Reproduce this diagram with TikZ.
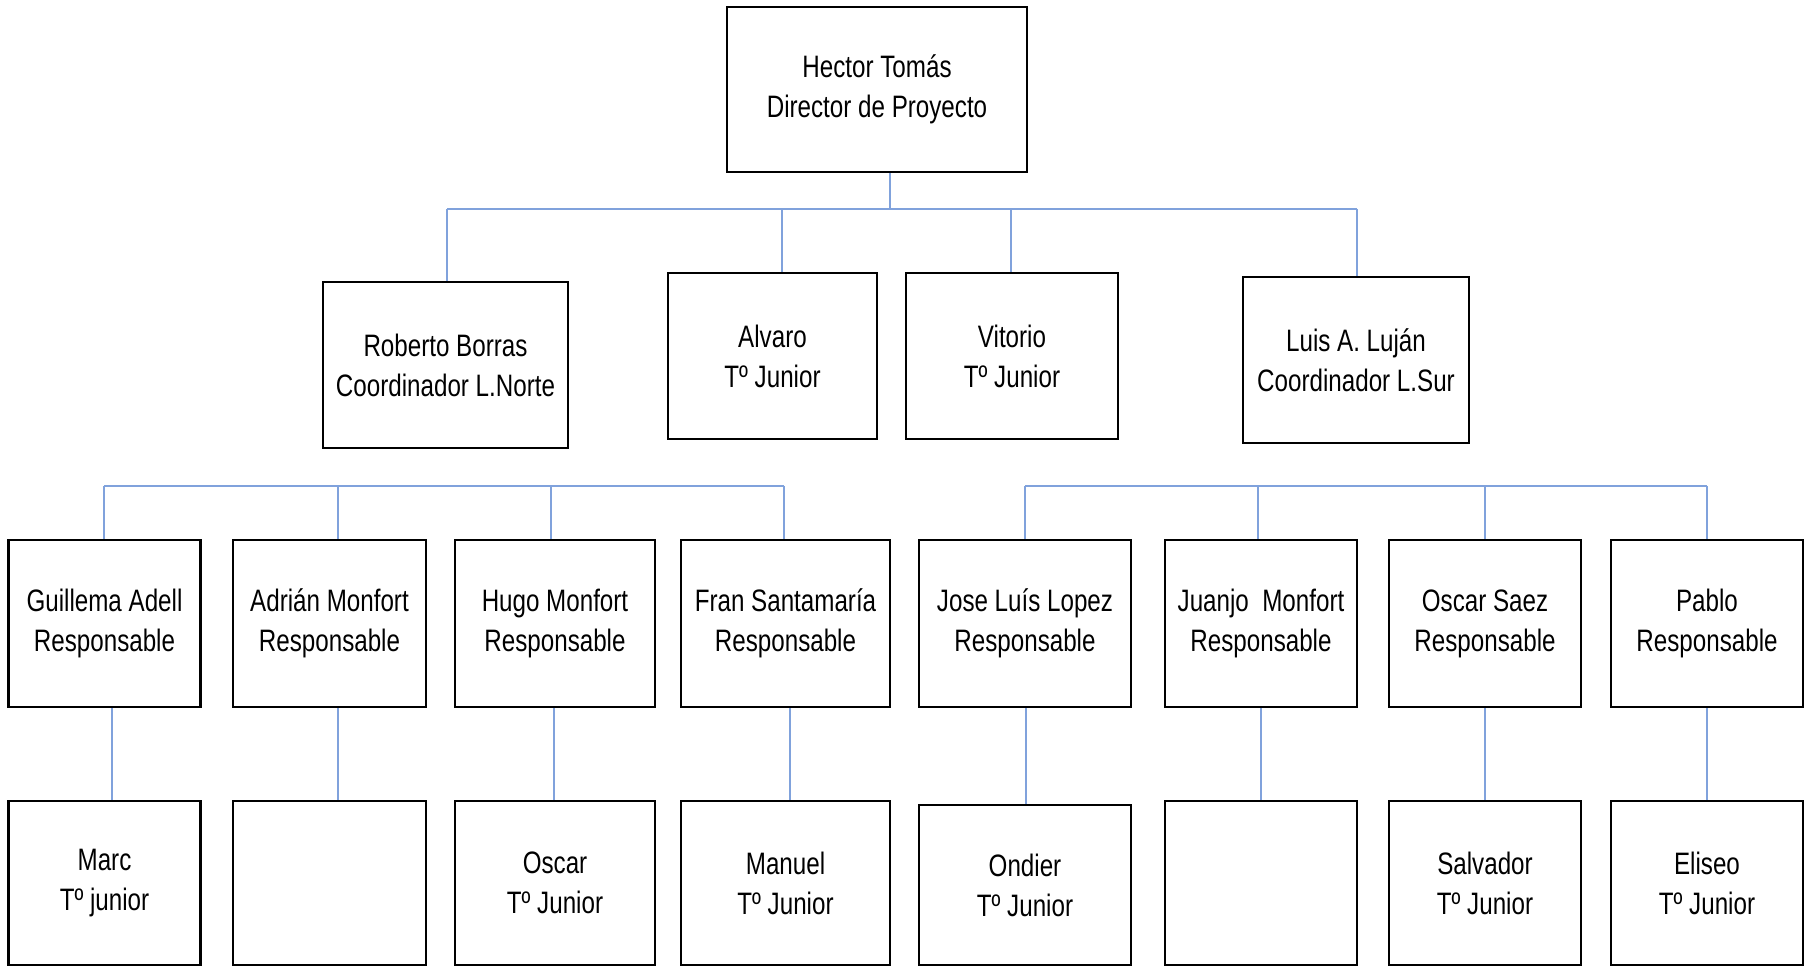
\documentclass[tikz,border=0pt]{standalone}
\usepackage{fontspec}
\setmainfont{Liberation Sans}[FakeStretch=0.78]
\definecolor{azul}{RGB}{128,162,220}
\tikzset{
  caja/.style={draw=black, line width=1.1pt, align=center, inner sep=0pt,
    font=\fontsize{15.5}{20}\selectfont},
  linea/.style={draw=azul, line width=1pt}
}
\begin{document}
\begin{tikzpicture}[x=0.5pt,y=-0.5pt]
\useasboundingbox (0,0) rectangle (1808,967);

% director
\node[caja, minimum width=150pt, minimum height=82.5pt] (dir) at (877,89.5) {Hector Tomás\\Director de Proyecto};

% segundo nivel
\node[caja, minimum width=122.5pt, minimum height=83pt] (rob) at (445.5,365) {Roberto Borras\\Coordinador L.Norte};
\node[caja, minimum width=104.5pt, minimum height=83pt] (alv) at (772.5,356) {Alvaro\\Tº Junior};
\node[caja, minimum width=106pt, minimum height=83pt] (vit) at (1012,356) {Vitorio\\Tº Junior};
\node[caja, minimum width=113pt, minimum height=83pt] (luis) at (1356,360) {Luis A. Luján\\Coordinador L.Sur};

\coordinate (b0) at (890,209);
\coordinate (b1) at (447,209);
\coordinate (b2) at (782,209);
\coordinate (b3) at (1011,209);
\coordinate (b4) at (1357,209);
\draw[linea] (dir.south -| b0) -- (b0);
\draw[linea] (b1) -- (b4);
\draw[linea] (b1) -- (rob.north -| b1);
\draw[linea] (b2) -- (alv.north -| b2);
\draw[linea] (b3) -- (vit.north -| b3);
\draw[linea] (b4) -- (luis.north -| b4);

% responsables
\node[caja, minimum width=96pt, minimum height=83.5pt] (gui) at (104.5,623.5) {Guillema Adell\\Responsable};
\node[caja, minimum width=96.5pt, minimum height=83.5pt] (adr) at (329.5,623.5) {Adrián Monfort\\Responsable};
\node[caja, minimum width=100pt, minimum height=83.5pt] (hug) at (555,623.5) {Hugo Monfort\\Responsable};
\node[caja, minimum width=104.5pt, minimum height=83.5pt] (fra) at (785.5,623.5) {Fran Santamaría\\Responsable};
\node[caja, minimum width=106pt, minimum height=83.5pt] (jos) at (1025,623.5) {Jose Luís Lopez\\Responsable};
\node[caja, minimum width=96pt, minimum height=83.5pt] (jua) at (1261,623.5) {Juanjo\ \ Monfort\\Responsable};
\node[caja, minimum width=96pt, minimum height=83.5pt] (osc) at (1485,623.5) {Oscar Saez\\Responsable};
\node[caja, minimum width=96pt, minimum height=83.5pt] (pab) at (1707,623.5) {Pablo\\Responsable};

\coordinate (n1) at (104,486);
\coordinate (n2) at (338,486);
\coordinate (n3) at (551,486);
\coordinate (n4) at (784,486);
\coordinate (s1) at (1025,486);
\coordinate (s2) at (1258,486);
\coordinate (s3) at (1485,486);
\coordinate (s4) at (1707,486);
\draw[linea] (n1) -- (n4);
\draw[linea] (s1) -- (s4);
\foreach \c/\n in {n1/gui,n2/adr,n3/hug,n4/fra,s1/jos,s2/jua,s3/osc,s4/pab}
  \draw[linea] (\c) -- (\n.north -| \c);

% tecnicos junior
\node[caja, minimum width=96pt, minimum height=82pt] (mar) at (104.5,883) {Marc\\Tº junior};
\node[caja, minimum width=96.5pt, minimum height=82pt] (vac1) at (329.5,883) {};
\node[caja, minimum width=100pt, minimum height=82pt] (osr) at (555,883) {Oscar\\Tº Junior};
\node[caja, minimum width=104.5pt, minimum height=82pt] (man) at (785.5,883) {Manuel\\Tº Junior};
\node[caja, minimum width=106pt, minimum height=80pt] (ond) at (1025,885) {Ondier\\Tº Junior};
\node[caja, minimum width=96pt, minimum height=82pt] (vac2) at (1261,883) {};
\node[caja, minimum width=96pt, minimum height=82pt] (sal) at (1485,883) {Salvador\\Tº Junior};
\node[caja, minimum width=96pt, minimum height=82pt] (eli) at (1707,883) {Eliseo\\Tº Junior};

\draw[linea] (gui.south -| 112,0) -- (mar.north -| 112,0);
\draw[linea] (adr.south -| 338,0) -- (vac1.north -| 338,0);
\draw[linea] (hug.south -| 554,0) -- (osr.north -| 554,0);
\draw[linea] (fra.south -| 790,0) -- (man.north -| 790,0);
\draw[linea] (jos.south -| 1026,0) -- (ond.north -| 1026,0);
\draw[linea] (jua.south -| 1261,0) -- (vac2.north -| 1261,0);
\draw[linea] (osc.south -| 1485,0) -- (sal.north -| 1485,0);
\draw[linea] (pab.south -| 1707,0) -- (eli.north -| 1707,0);
\end{tikzpicture}
\end{document}
